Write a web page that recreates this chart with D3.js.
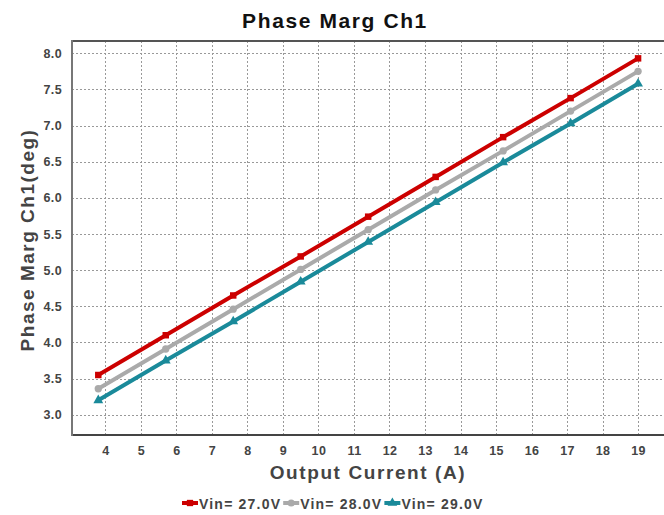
<!DOCTYPE html>
<html>
<head>
<meta charset="utf-8">
<script src="https://cdn.jsdelivr.net/npm/d3@7"></script>
<style>
  html, body { margin: 0; padding: 0; background: #fff; }
  svg { display: block; font-family: "Liberation Sans", Arial, sans-serif; }
</style>
</head>
<body>
<svg id="chart" width="664" height="515"></svg>
<script>
// Output current sweep (A)
const current = [3.8, 5.7, 7.6, 9.5, 11.4, 13.3, 15.2, 17.1, 19.0];
// Phase margin per input voltage (deg)
const vin27 = [3.55, 4.10, 4.65, 5.19, 5.74, 6.29, 6.84, 7.38, 7.93];
const vin28 = [3.36, 3.91, 4.46, 5.01, 5.56, 6.11, 6.65, 7.20, 7.75];
const vin29 = [3.20, 3.75, 4.29, 4.84, 5.39, 5.94, 6.49, 7.03, 7.58];
const seriesNames = ["Vin= 27.0V", "Vin= 28.0V", "Vin= 29.0V"];
const seriesColors = ["#cc0000", "#aaaaaa", "#1a8a9a"];
const xTicks = [4, 5, 6, 7, 8, 9, 10, 11, 12, 13, 14, 15, 16, 17, 18, 19];
const yTicks = [3.0, 3.5, 4.0, 4.5, 5.0, 5.5, 6.0, 6.5, 7.0, 7.5, 8.0];

const series = [vin27, vin28, vin29].map((vals, i) => ({
  name: seriesNames[i],
  color: seriesColors[i],
  symbol: [d3.symbolSquare, d3.symbolCircle, d3.symbolTriangle][i],
  points: vals.map((v, j) => ({ x: current[j], y: v }))
}));

const svg = d3.select("#chart");
const plot = { left: 72, right: 664, top: 41, bottom: 435 };

const x = d3.scaleLinear().domain([3.06, 19.73]).range([plot.left, plot.right]);
const y = d3.scaleLinear().domain([2.72, 8.17]).range([plot.bottom, plot.top]);

// dotted grid
const grid = svg.append("g").attr("stroke", "#999").attr("stroke-width", 1)
  .attr("stroke-dasharray", "2,2");
grid.selectAll("line.v").data(xTicks).join("line")
  .attr("x1", d => Math.round(x(d)) + 0.5).attr("x2", d => Math.round(x(d)) + 0.5)
  .attr("y1", plot.top).attr("y2", plot.bottom);
grid.selectAll("line.h").data(yTicks).join("line")
  .attr("y1", d => Math.round(y(d)) + 0.5).attr("y2", d => Math.round(y(d)) + 0.5)
  .attr("x1", plot.left).attr("x2", plot.right);

// axes
const xAxis = svg.append("g").attr("transform", `translate(0,${plot.bottom})`)
  .call(d3.axisBottom(x).tickValues(xTicks).tickSize(0).tickPadding(11).tickFormat(d3.format("d")));
const yAxis = svg.append("g").attr("transform", `translate(${plot.left},0)`)
  .call(d3.axisLeft(y).tickValues(yTicks).tickSize(0).tickPadding(10).tickFormat(d3.format(".1f")));
[xAxis, yAxis].forEach(a => {
  a.select(".domain").remove();
  a.selectAll("text").attr("font-size", 12.5).attr("font-weight", "bold").attr("fill", "#444")
    .attr("letter-spacing", 0.4)
    .attr("font-family", "'Liberation Sans', Arial, sans-serif");
});

// frame
svg.append("line").attr("x1", plot.left).attr("x2", plot.right).attr("y1", plot.top).attr("y2", plot.top)
  .attr("stroke", "#555").attr("stroke-width", 2);
svg.append("line").attr("x1", plot.left).attr("x2", plot.right).attr("y1", plot.bottom).attr("y2", plot.bottom)
  .attr("stroke", "#444").attr("stroke-width", 2);
svg.append("line").attr("x1", plot.left).attr("x2", plot.left).attr("y1", plot.top - 1).attr("y2", plot.bottom + 1)
  .attr("stroke", "#777").attr("stroke-width", 2);

// series lines and markers
const line = d3.line().x(d => x(d.x)).y(d => y(d.y));
series.forEach(s => {
  const g = svg.append("g");
  g.append("path").datum(s.points).attr("d", line)
    .attr("fill", "none").attr("stroke", s.color).attr("stroke-width", 4);
  g.selectAll("path.m").data(s.points).join("path")
    .attr("transform", d => `translate(${x(d.x)},${y(d.y)})`)
    .attr("d", d3.symbol().type(s.symbol).size(42))
    .attr("fill", s.color);
});

// title and axis titles
svg.append("text").attr("x", 335).attr("y", 28).attr("text-anchor", "middle")
  .attr("font-size", 21).attr("font-weight", "bold").attr("fill", "#111")
  .attr("letter-spacing", 1.6)
  .text("Phase Marg Ch1");
svg.append("text").attr("x", 368).attr("y", 479).attr("text-anchor", "middle")
  .attr("font-size", 19).attr("font-weight", "bold").attr("fill", "#444")
  .attr("letter-spacing", 1.6)
  .text("Output Current (A)");
svg.append("text").attr("transform", `translate(34,240) rotate(-90)`).attr("text-anchor", "middle")
  .attr("font-size", 19).attr("font-weight", "bold").attr("fill", "#444")
  .attr("letter-spacing", 1.5)
  .text("Phase Marg Ch1(deg)");

// legend
const legend = svg.append("g").attr("transform", "translate(182,503)");
let lx = 0;
series.forEach(s => {
  const item = legend.append("g").attr("transform", `translate(${lx},0)`);
  item.append("line").attr("x1", 0).attr("x2", 16).attr("y1", 0).attr("y2", 0)
    .attr("stroke", s.color).attr("stroke-width", 4);
  item.append("path").attr("transform", "translate(8,0)")
    .attr("d", d3.symbol().type(s.symbol).size(40)).attr("fill", s.color);
  const t = item.append("text").attr("x", 17).attr("y", 5.5)
    .attr("font-size", 14).attr("font-weight", "bold").attr("fill", "#444")
    .attr("letter-spacing", 1.2)
    .text(s.name);
  lx += 17 + t.node().getComputedTextLength() + 2;
});
</script>
</body>
</html>
